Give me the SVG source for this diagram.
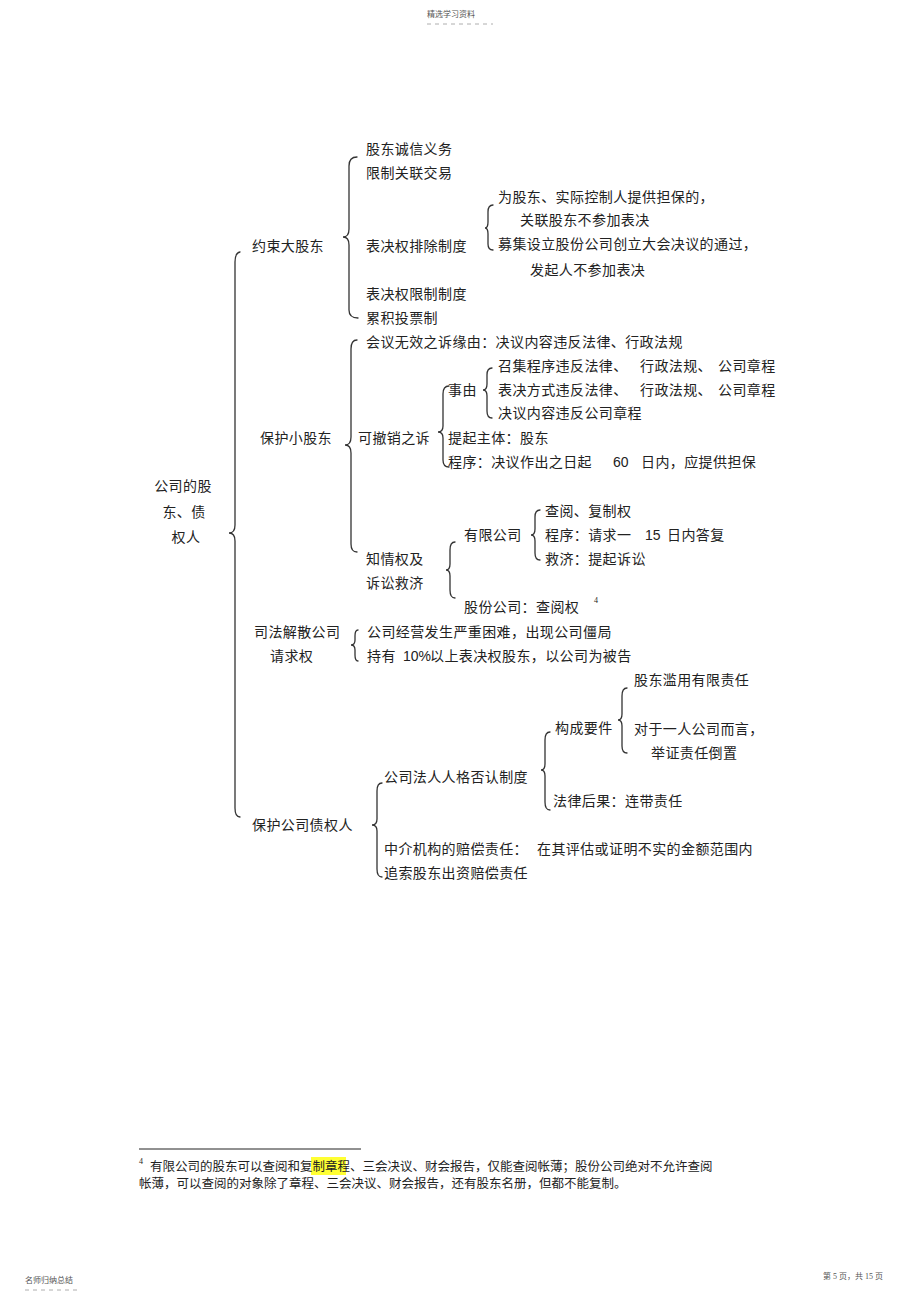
<svg xmlns="http://www.w3.org/2000/svg" width="920" height="1303" viewBox="0 0 920 1303">
<style>
text{font-family:"Liberation Serif","Noto Sans CJK SC",serif;fill:#222;}
.t{font-size:14px;letter-spacing:0.4px;}
.n{font-family:"Liberation Sans",sans-serif;font-size:14px;letter-spacing:0;}
.s{font-size:8px;fill:#555;}
.f{font-size:12.5px;}
.br{fill:none;stroke:#333;stroke-width:1.3;stroke-linecap:round;}
.dash{stroke:#999;stroke-width:0.8;stroke-dasharray:4 4;}
</style>
<rect width="920" height="1303" fill="#fff"/>
<g id="header">
<text class="s" x="427" y="17" font-size="7.5">精选学习资料</text>
<line class="dash" x1="427" y1="24" x2="493" y2="24"/>
</g>
<g id="connectors">
<!-- big brace -->
<path class="br" d="M240,252 Q235,253 235,262 L235,525 Q235,533 229,533 Q235,533 235,541 L235,808 Q235,817 240,817"/>
<!-- 约束大股东 -->
<path class="br" d="M357,157 Q349,157 349,166 L349,229 Q349,237 343,237 Q349,237 349,245 L349,310 Q349,318 358,318"/>
<!-- 表决权排除制度 -->
<path class="br" d="M493,205 Q488,205 488,212 L488,222 Q488,228 485,228 Q488,228 488,234 L488,244 Q488,250 493,250"/>
<!-- 保护小股东 -->
<path class="br" d="M357,340 Q351,340 351,349 L351,437 Q351,445 345,445 Q351,445 351,453 L351,544 Q351,552 357,552"/>
<!-- 可撤销之诉 -->
<path class="br" d="M449,386 Q443,386 443,394 L443,426 Q443,432 438,432 Q443,432 443,438 L443,460 Q443,467 449,467"/>
<!-- 事由 -->
<path class="br" d="M492,368 Q487,368 487,375 L487,384 Q487,390 483,390 Q487,390 487,396 L487,411 Q487,418 492,418"/>
<!-- 知情权及 -->
<path class="br" d="M455,542 Q450,542 450,550 L450,564 Q450,570 446,570 Q450,570 450,576 L450,590 Q450,598 455,598"/>
<!-- 有限公司 -->
<path class="br" d="M540,510 Q535,510 535,517 L535,529 Q535,535 531,535 Q535,535 535,541 L535,553 Q535,560 540,560"/>
<!-- 司法解散 -->
<path class="br" d="M358,630 Q355,630 355,636 L355,640 Q355,645 351,645 Q355,645 355,650 L355,655 Q355,661 358,661"/>
<!-- 构成要件 -->
<path class="br" d="M627,688 Q622,688 622,696 L622,714 Q622,720 618,720 Q622,720 622,726 L622,746 Q622,753 627,753"/>
<!-- 公司法人人格否认制度 -->
<path class="br" d="M550,732 Q545,732 545,740 L545,764 Q545,770 541,770 Q545,770 545,776 L545,802 Q545,810 550,810"/>
<!-- 保护公司债权人 -->
<path class="br" d="M382,783 Q377,783 377,791 L377,819 Q377,825 372,825 Q377,825 377,831 L377,869 Q377,877 382,877"/>
</g>
<g id="root">
<text class="t" x="183" y="491" text-anchor="middle">公司的股</text>
<text class="t" x="184" y="517" text-anchor="middle">东、债</text>
<text class="t" x="186" y="542" text-anchor="middle">权人</text>
</g>
<g id="n-yueshu"><text class="t" x="252" y="251">约束大股东</text></g>
<g id="n-chengxin"><text class="t" x="366" y="154">股东诚信义务</text></g>
<g id="n-guanlian"><text class="t" x="366" y="178">限制关联交易</text></g>
<g id="n-paichu"><text class="t" x="366" y="251">表决权排除制度</text></g>
<g id="n-danbao">
<text class="t" x="498" y="202">为股东、实际控制人提供担保的，</text>
<text class="t" x="520" y="225">关联股东不参加表决</text>
</g>
<g id="n-muji">
<text class="t" x="498" y="249">募集设立股份公司创立大会决议的通过，</text>
<text class="t" x="530" y="275">发起人不参加表决</text>
</g>
<g id="n-xianzhi"><text class="t" x="366" y="299">表决权限制制度</text></g>
<g id="n-leiji"><text class="t" x="366" y="323">累积投票制</text></g>
<g id="n-xiaogudong"><text class="t" x="260" y="443">保护小股东</text></g>
<g id="n-wuxiao"><text class="t" x="366" y="347">会议无效之诉缘由：决议内容违反法律、行政法规</text></g>
<g id="n-kechexiao"><text class="t" x="358" y="443">可撤销之诉</text></g>
<g id="n-shiyou"><text class="t" x="448" y="395">事由</text></g>
<g id="n-zhaoji"><text class="t" x="498" y="371">召集程序违反法律、<tspan x="640">行政法规、</tspan><tspan x="718">公司章程</tspan></text></g>
<g id="n-biaojue"><text class="t" x="498" y="395">表决方式违反法律、<tspan x="640">行政法规、</tspan><tspan x="718">公司章程</tspan></text></g>
<g id="n-neirong"><text class="t" x="498" y="418">决议内容违反公司章程</text></g>
<g id="n-zhuti"><text class="t" x="448" y="443">提起主体：股东</text></g>
<g id="n-chengxu"><text class="t" x="448" y="467">程序：决议作出之日起<tspan class="n" x="613">60</tspan><tspan x="641">日内，应提供担保</tspan></text></g>
<g id="n-zhiqing">
<text class="t" x="366" y="564">知情权及</text>
<text class="t" x="366" y="588">诉讼救济</text>
</g>
<g id="n-youxian"><text class="t" x="464" y="540">有限公司</text></g>
<g id="n-chayue"><text class="t" x="545" y="516">查阅、复制权</text></g>
<g id="n-qingqiu"><text class="t" x="545" y="540">程序：请求一<tspan class="n" x="645">15</tspan><tspan x="667">日内答复</tspan></text></g>
<g id="n-jiuji"><text class="t" x="545" y="564">救济：提起诉讼</text></g>
<g id="n-gufen"><text class="t" x="464" y="612">股份公司：查阅权</text><text x="594" y="603" font-family="Liberation Sans,sans-serif" font-size="8">4</text></g>
<g id="n-jiesan">
<text class="t" x="254" y="637">司法解散公司</text>
<text class="t" x="270" y="661">请求权</text>
</g>
<g id="n-jiangju"><text class="t" x="367" y="637">公司经营发生严重困难，出现公司僵局</text></g>
<g id="n-chiyou"><text class="t" x="367" y="661">持有<tspan class="n" x="403">10%</tspan><tspan x="430">以上表决权股东，以公司为被告</tspan></text></g>
<g id="n-zhaiquan"><text class="t" x="252" y="830">保护公司债权人</text></g>
<g id="n-fouren"><text class="t" x="384" y="782">公司法人人格否认制度</text></g>
<g id="n-goucheng"><text class="t" x="555" y="733">构成要件</text></g>
<g id="n-lanyong"><text class="t" x="634" y="685">股东滥用有限责任</text></g>
<g id="n-yiren">
<text class="t" x="634" y="734">对于一人公司而言，</text>
<text class="t" x="651" y="758">举证责任倒置</text>
</g>
<g id="n-houguo"><text class="t" x="553" y="806">法律后果：连带责任</text></g>
<g id="n-zhongjie"><text class="t" x="384" y="854">中介机构的赔偿责任：<tspan x="537">在其评估或证明不实的金额范围内</tspan></text></g>
<g id="n-zhuisuo"><text class="t" x="384" y="878">追索股东出资赔偿责任</text></g>
<g id="footnote">
<line x1="139" y1="1149" x2="361" y2="1149" stroke="#222" stroke-width="1"/>
<rect x="311" y="1157" width="35" height="18" fill="#ffff33"/>
<text x="139" y="1164" font-family="Liberation Sans,sans-serif" font-size="8">4</text>
<text class="f" x="150" y="1171">有限公司的股东可以查阅和复制章程、三会决议、财会报告，仅能查阅帐薄；股份公司绝对不允许查阅</text>
<text class="f" x="139" y="1188">帐薄，可以查阅的对象除了章程、三会决议、财会报告，还有股东名册，但都不能复制。</text>
</g>
<g id="footer">
<text class="s" x="25" y="1283" font-size="7.5">名师归纳总结</text>
<line class="dash" x1="25" y1="1290" x2="80" y2="1290"/>
<text class="s" x="823" y="1279" font-size="7.5">第 5 页，共 15 页</text>
</g>
</svg>
